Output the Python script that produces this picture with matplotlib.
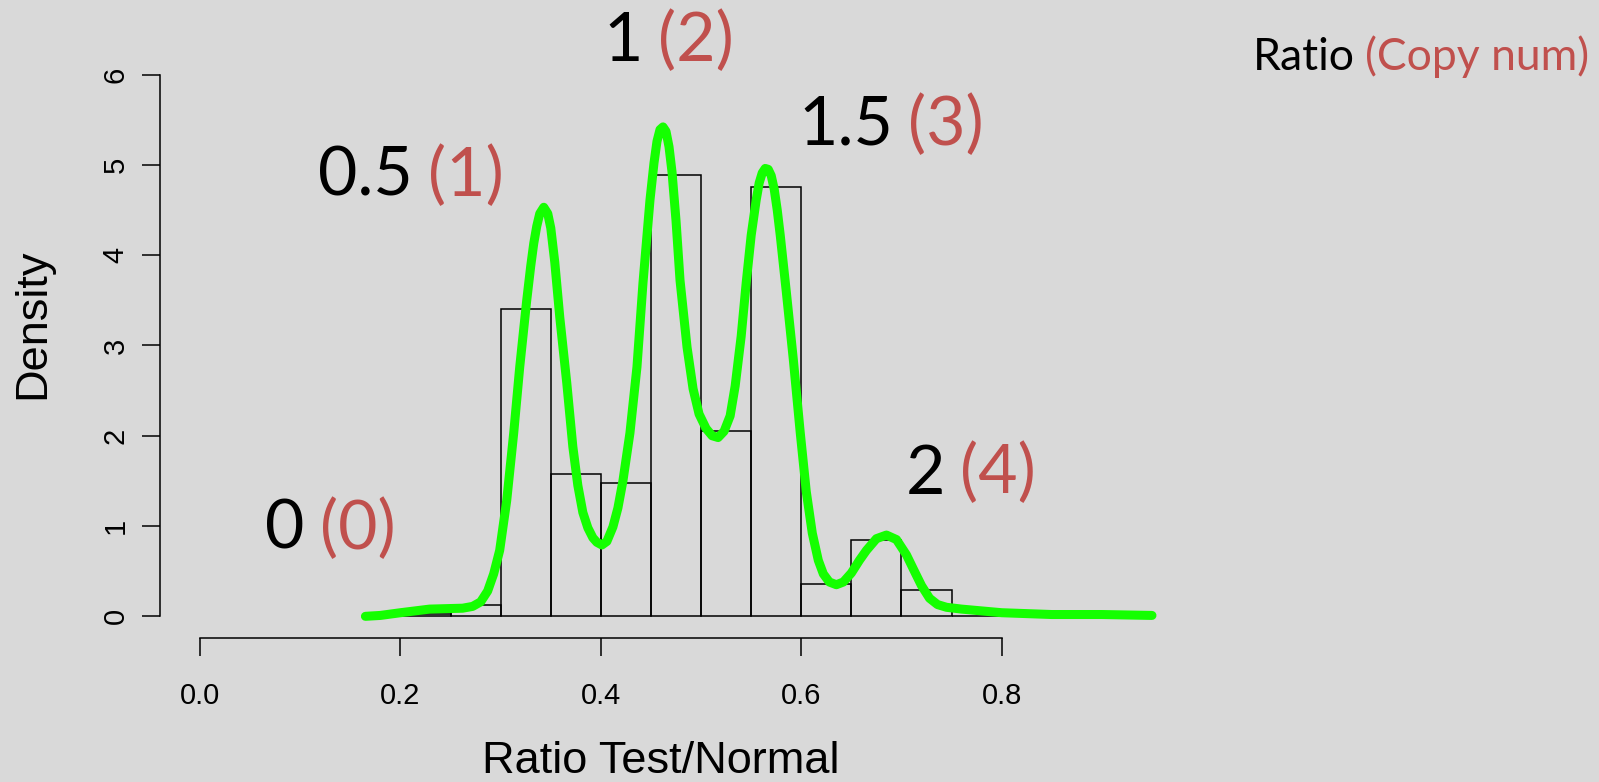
import matplotlib
matplotlib.use("Agg")
import matplotlib.pyplot as plt

# ---- data ----
bin_edges_left = [0.20, 0.25, 0.30, 0.35, 0.40, 0.45, 0.50, 0.55, 0.60, 0.65, 0.70, 0.75]
bin_density = [0.03, 0.12, 3.40, 1.58, 1.48, 4.89, 2.05, 4.76, 0.36, 0.85, 0.29, 0.0]
bin_width = 0.05

kde_x = [0.165, 0.180, 0.200, 0.229, 0.262, 0.272, 0.280, 0.287, 0.293, 0.299, 0.306,
         0.313, 0.319, 0.326, 0.330, 0.333, 0.336, 0.339, 0.343, 0.347, 0.350, 0.354,
         0.359, 0.366, 0.372, 0.377, 0.382, 0.387, 0.392, 0.396, 0.401, 0.406, 0.412,
         0.417, 0.422, 0.429, 0.436, 0.442, 0.449, 0.453, 0.456, 0.459, 0.462, 0.465,
         0.468, 0.471, 0.475, 0.479, 0.486, 0.492, 0.498, 0.505, 0.511, 0.517, 0.523,
         0.529, 0.534, 0.540, 0.545, 0.550, 0.555, 0.558, 0.561, 0.564, 0.567, 0.570,
         0.573, 0.576, 0.579, 0.585, 0.592, 0.599, 0.605, 0.611, 0.617, 0.622, 0.628,
         0.635, 0.642, 0.650, 0.658, 0.665, 0.675, 0.685, 0.695, 0.705, 0.712, 0.720,
         0.728, 0.736, 0.745, 0.760, 0.780, 0.800, 0.850, 0.900, 0.950]
kde_y = [0.00, 0.01, 0.04, 0.08, 0.09, 0.11, 0.16, 0.28, 0.47, 0.73, 1.28,
         2.03, 2.76, 3.50, 3.88, 4.13, 4.32, 4.46, 4.53, 4.46, 4.30, 3.92,
         3.31, 2.58, 1.88, 1.45, 1.15, 0.98, 0.87, 0.82, 0.79, 0.83, 0.99,
         1.20, 1.50, 2.03, 2.76, 3.69, 4.61, 5.02, 5.26, 5.39, 5.42, 5.37,
         5.20, 4.92, 4.38, 3.72, 2.98, 2.52, 2.24, 2.08, 2.00, 1.98, 2.05,
         2.22, 2.55, 3.10, 3.69, 4.22, 4.61, 4.80, 4.91, 4.96, 4.95, 4.88,
         4.73, 4.50, 4.22, 3.60, 2.85, 2.03, 1.38, 0.92, 0.62, 0.47, 0.38,
         0.35, 0.38, 0.48, 0.62, 0.73, 0.86, 0.90, 0.85, 0.68, 0.52, 0.34,
         0.20, 0.13, 0.10, 0.08, 0.06, 0.04, 0.02, 0.02, 0.01]

x_ticks = [0.0, 0.2, 0.4, 0.6, 0.8]
x_tick_labels = ["0.0", "0.2", "0.4", "0.6", "0.8"]
y_ticks = [0, 1, 2, 3, 4, 5, 6]
y_tick_labels = ["0", "1", "2", "3", "4", "5", "6"]

peak_labels = [("0", "(0)", 0.065, 0.75),
               ("0.5", "(1)", 0.118, 4.66),
               ("1", "(2)", 0.403, 6.15),
               ("1.5", "(3)", 0.597, 5.22),
               ("2", "(4)", 0.704, 1.36)]

BG = "#d9d9d9"
RED = "#c0504d"
GREEN = "#14ff00"

W, H = 1599, 782
fig = plt.figure(figsize=(W / 100, H / 100), dpi=100, facecolor=BG)
# axes region in pixels: left 160, right 1162, top 47, bottom 638
ax = fig.add_axes([160 / W, (H - 638) / H, 1002 / W, 591 / H], facecolor=BG)
ax.set_xlim(-0.04, 0.96)
ax.set_ylim(-0.24, 6.305)

ax.bar(bin_edges_left, bin_density, width=bin_width, align="edge",
       fill=False, edgecolor="black", linewidth=1.1, zorder=2)
ax.plot(kde_x, kde_y, color=GREEN, linewidth=6.5, solid_capstyle="round",
        solid_joinstyle="round", zorder=3)

for s in ("top", "right"):
    ax.spines[s].set_visible(False)
ax.spines["left"].set_bounds(0, 6)
ax.spines["bottom"].set_bounds(0, 0.8)
for s in ("left", "bottom"):
    ax.spines[s].set_linewidth(1.1)

tick_font = dict(family="Liberation Sans", size=21)
ax.set_xticks(x_ticks)
ax.set_xticklabels(x_tick_labels, fontdict=tick_font)
ax.set_yticks(y_ticks)
ax.set_yticklabels(y_tick_labels, fontdict=tick_font, rotation=90, va="center")
ax.tick_params(axis="both", direction="out", length=13, width=1.1, colors="black")
ax.tick_params(axis="x", pad=19)
ax.tick_params(axis="y", pad=9)

lab_font = dict(family="Liberation Sans", size=32.5)
ax.set_xlabel("Ratio Test/Normal", fontdict=lab_font, va="baseline")
ax.xaxis.set_label_coords(0.5, (9 - 144) / 591)
ax.set_ylabel("Density", fontdict=lab_font, va="center", ha="center")
ax.yaxis.set_label_coords((33 - 160) / 1002, (638 - 324) / 591)


def two_tone(x, y, black, red, size, transform):
    t = ax.text(x, y, black, transform=transform, fontsize=size, family="Lato",
                color="black", ha="left", va="baseline", clip_on=False)
    ax.annotate(red, xy=(1, 0), xycoords=t, xytext=(size * 0.22, 0),
                textcoords="offset points", fontsize=size, family="Lato",
                color=RED, ha="left", va="bottom", annotation_clip=False)


for blk, rd, x, y in peak_labels:
    two_tone(x, y, blk, rd, 49, ax.transData)

two_tone(1253 / W, 1 - 70 / H, "Ratio", "(Copy num)", 32, fig.transFigure)

fig.savefig("out.png", dpi=100, facecolor=BG)
